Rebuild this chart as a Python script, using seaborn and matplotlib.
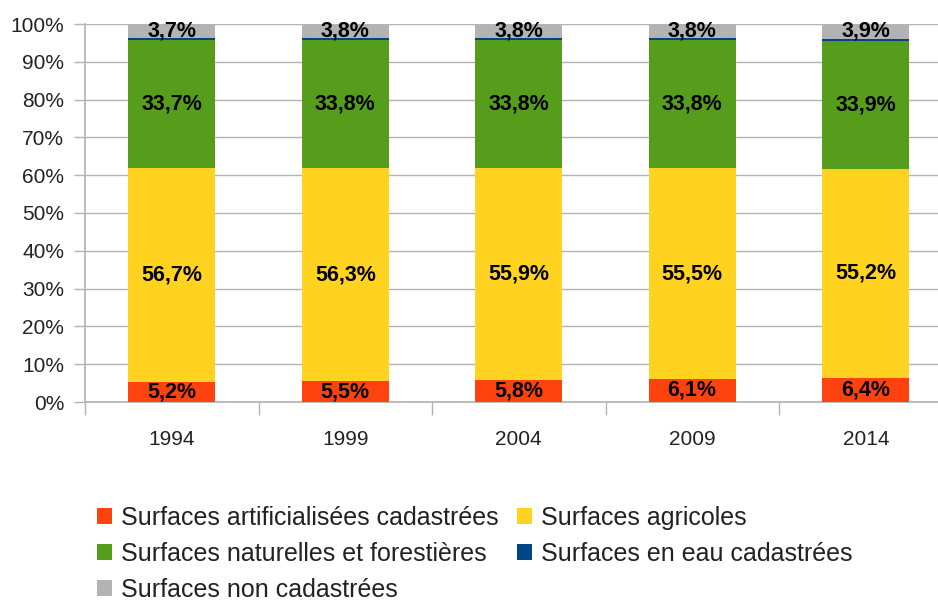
import numpy as np
import pandas as pd
import seaborn as sns
import matplotlib.pyplot as plt
from matplotlib.patches import Patch

years = ['1994', '1999', '2004', '2009', '2014']
artificielles = [5.2, 5.5, 5.8, 6.1, 6.4]
agricoles = [56.7, 56.3, 55.9, 55.5, 55.2]
naturelles = [33.7, 33.8, 33.8, 33.8, 33.9]
eau = [0.5, 0.5, 0.5, 0.5, 0.5]
non_cadastrees = [3.7, 3.8, 3.8, 3.8, 3.9]

names = ['Surfaces artificialisées cadastrées', 'Surfaces agricoles',
         'Surfaces naturelles et forestières', 'Surfaces en eau cadastrées',
         'Surfaces non cadastrées']
colors = ['#ff420e', '#ffd320', '#579d1c', '#004586', '#b3b3b3']

sns.set_theme(style='white')
plt.rcParams['font.family'] = ['Liberation Sans', 'DejaVu Sans']

df = pd.DataFrame({'Année': years})
for name, vals in zip(names, [artificielles, agricoles, naturelles, eau, non_cadastrees]):
    df[name] = vals
total = df[names].sum(axis=1)
pct = df[names].div(total, axis=0) * 100
cum = pct.cumsum(axis=1)

fig = plt.figure(figsize=(9.38, 6.03), dpi=100)
ax = fig.add_axes([85 / 938, 201 / 603, 867.5 / 938, 378 / 603])

# stacked bars: draw cumulative heights from top layer down
for name, color in reversed(list(zip(names, colors))):
    sns.barplot(x=df['Année'], y=cum[name], color=color, width=0.5,
                saturation=1, linewidth=0, edgecolor='none', ax=ax, zorder=3)

# labels at segment centres
for i in range(len(years)):
    for j, name in enumerate(names):
        if name == 'Surfaces en eau cadastrées':
            continue
        top = cum[name][i]
        mid = top - pct[name][i] / 2
        txt = ('%.1f%%' % df[name][i]).replace('.', ',')
        ax.text(i, mid, txt, ha='center', va='center', fontsize=15.5,
                fontweight='bold', color='black', zorder=5)

ax.set_xlim(-0.5, 4.5)
ax.set_ylim(0, 100)
ax.set_yticks(np.arange(0, 101, 10))
ax.set_yticklabels(['%d%%' % v for v in range(0, 101, 10)])
ax.yaxis.grid(True, color='#b3b3b3', linewidth=1, zorder=0)
ax.set_axisbelow(True)
ax.set_xlabel('')
ax.set_ylabel('')

ax.set_xticks(np.arange(-0.5, 5, 1), minor=True)
ax.tick_params(axis='x', which='major', length=0, pad=20, labelsize=15, colors='#222222')
ax.tick_params(axis='x', which='minor', length=9, width=1, color='#b3b3b3', bottom=True)
ax.tick_params(axis='y', which='major', length=8, width=1, color='#b3b3b3', left=True,
               pad=7, labelsize=15, labelcolor='#222222')

for side in ['top', 'right']:
    ax.spines[side].set_visible(False)
ax.spines['left'].set_color('#b3b3b3')
ax.spines['bottom'].set_color('#b3b3b3')

order = [0, 2, 4, 1, 3]
handles = [Patch(facecolor=colors[k], edgecolor='none') for k in order]
labels = [names[k] for k in order]
fig.legend(handles, labels, ncol=2, loc='upper left', bbox_to_anchor=(97 / 938, 1 - 506 / 603),
           frameon=False, fontsize=18, handlelength=0.6, handleheight=0.6,
           handletextpad=0.35, columnspacing=0.75, labelspacing=0.48, borderpad=0,
           borderaxespad=0, labelcolor='#222222')

fig.savefig('out.png', dpi=100)
